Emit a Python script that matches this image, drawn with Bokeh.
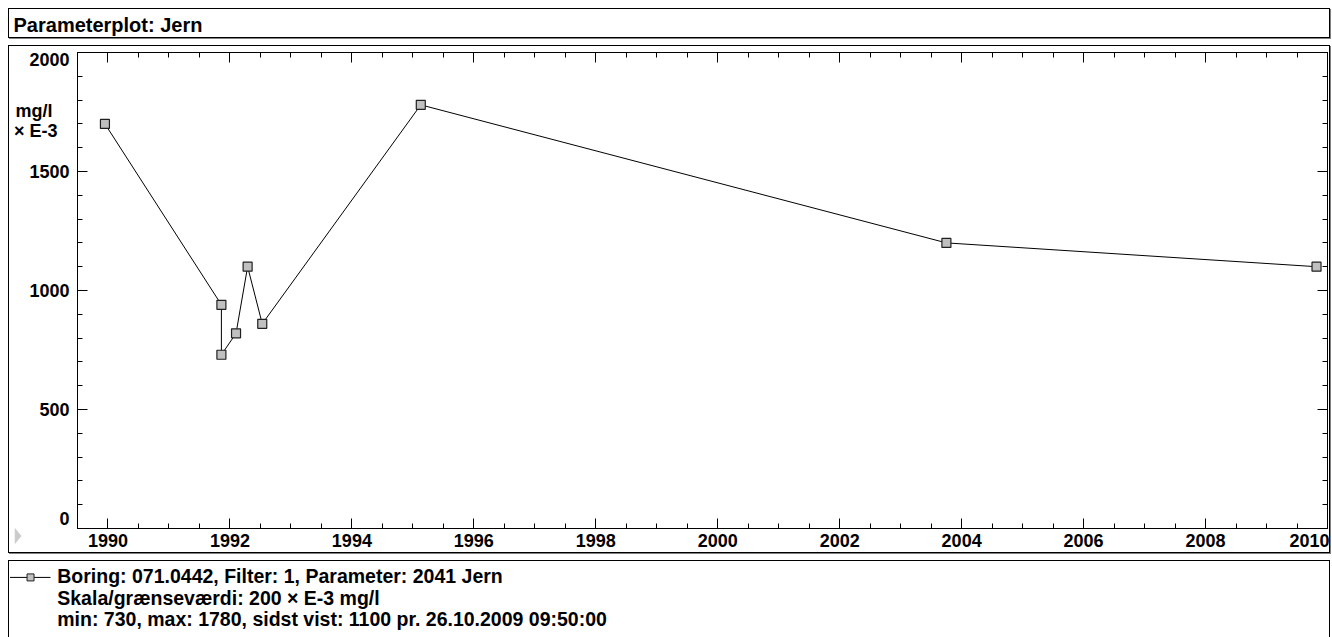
from bokeh.plotting import figure
from bokeh.models import LinearAxis, FixedTicker, Range1d, ColumnDataSource
from bokeh.core.properties import value
from bokeh.embed import file_html
from bokeh.resources import INLINE

# ---------------- data ----------------
years = [1989.95, 1991.86, 1991.86, 1992.10, 1992.29, 1992.53, 1995.13, 2003.75, 2009.82]
values = [1700, 940, 730, 820, 1100, 860, 1780, 1200, 1100]
x_major = [1990, 1992, 1994, 1996, 1998, 2000, 2002, 2004, 2006, 2008, 2010]
x_minor = [1989.5 + 0.5 * i for i in range(42)]
y_major = [0, 500, 1000, 1500, 2000]
y_minor = list(range(0, 2001, 100))
title_text = "Parameterplot: Jern"
unit_text = "mg/l \n× E-3"
legend_lines = ["Boring: 071.0442, Filter: 1, Parameter: 2041 Jern",
                "Skala/grænseværdi:  200 × E-3 mg/l",
                "min: 730,  max: 1780,  sidst vist: 1100  pr. 26.10.2009 09:50:00"]

FONT = "Liberation Sans"
W = 1322

# ---------------- title box ----------------
TH = 30
tf = figure(width=W, height=TH, x_range=Range1d(0, W - 2), y_range=Range1d(0, TH - 2),
            output_backend="svg", toolbar_location=None, min_border=0,
            x_axis_location=None, y_axis_location=None, margin=(8, 0, 0, 8))
tf.grid.visible = False
tf.outline_line_color = None
tf.styles = {"border": "1px solid black", "box-shadow": "1px 1px 0 0 #808080"}
tf.text(x=[4], y=[14], text=[title_text], text_font=value(FONT), text_font_style="bold",
        text_font_size="20px", text_color="black", text_baseline="alphabetic")

# ---------------- main plot ----------------
MH = 508
p = figure(width=W, height=MH, x_range=Range1d(1989.5, 2010.0), y_range=Range1d(0, 2000),
           output_backend="svg", toolbar_location=None, x_axis_location=None,
           y_axis_location=None, min_border_left=68, min_border_right=4,
           min_border_top=6, min_border_bottom=26, margin=(7, 0, 0, 8))
p.grid.visible = False
p.outline_line_color = "black"
p.outline_line_width = 1
p.background_fill_color = "white"
p.border_fill_color = "white"
p.styles = {"border": "1px solid black", "box-shadow": "1px 1px 0 0 #808080"}


def tick_axis(ticks, minor):
    """axis drawing the line and inward ticks only (labels empty)"""
    ax = LinearAxis(ticker=FixedTicker(ticks=ticks, minor_ticks=minor))
    ax.axis_line_color = "black"
    ax.major_tick_line_color = "black"
    ax.minor_tick_line_color = "black"
    ax.major_tick_in = 10
    ax.major_tick_out = 0
    ax.minor_tick_in = 5
    ax.minor_tick_out = 0
    ax.major_label_overrides = {t: "" for t in ticks}
    ax.major_label_text_font_size = "1px"
    ax.major_label_standoff = 0
    return ax


def label_axis(positions, texts, standoff, size="18px"):
    """axis drawing only the labels, at the places used by the original program"""
    ax = LinearAxis(ticker=FixedTicker(ticks=positions, minor_ticks=[]))
    ax.axis_line_color = None
    ax.major_tick_line_color = None
    ax.minor_tick_line_color = None
    ax.major_tick_in = 0
    ax.major_tick_out = 0
    ax.minor_tick_in = 0
    ax.minor_tick_out = 0
    ax.major_label_overrides = {pos: t for pos, t in zip(positions, texts)}
    ax.major_label_text_font = FONT
    ax.major_label_text_font_style = "bold"
    ax.major_label_text_font_size = size
    ax.major_label_text_color = "black"
    ax.major_label_standoff = standoff
    return ax


# frame axes with inward ticks
p.add_layout(tick_axis(x_major, x_minor), "below")
p.add_layout(tick_axis(y_major, y_minor), "left")
p.add_layout(tick_axis(x_major, x_minor), "above")
p.add_layout(tick_axis(y_major, y_minor), "right")

# x labels: the last one is kept inside the panel (shifted left), as in the original
x_label_pos = x_major[:-1] + [2009.74]
p.add_layout(label_axis(x_label_pos, [str(v) for v in x_major], 5), "below")

# y labels: 0 and 2000 nudged inside the frame, as in the original
y_label_pos = [40, 500, 1000, 1500, 1970]
p.add_layout(label_axis(y_label_pos, [str(v) for v in y_major], 8), "left")

# unit text at upper left (two lines)
unit_axis = label_axis([1712], [unit_text], -31)
unit_axis.major_label_text_line_height = 1.0
p.add_layout(unit_axis, "left")

src = ColumnDataSource(dict(x=years, y=values))
p.line("x", "y", source=src, line_color="black", line_width=1)
p.scatter("x", "y", source=src, marker="square", size=9, fill_color="#c0c0c0",
          line_color="#202020", line_width=1.2)

# ---------------- legend box ----------------
LH = 77
lf = figure(width=W, height=LH, x_range=Range1d(0, W - 2), y_range=Range1d(0, LH - 1),
            output_backend="svg", toolbar_location=None, min_border=0,
            x_axis_location=None, y_axis_location=None, margin=(7, 0, 0, 8))
lf.grid.visible = False
lf.outline_line_color = None
lf.styles = {"border-left": "1px solid black", "border-top": "1px solid black",
             "border-right": "1px solid black", "white-space": "pre"}
lf.line([0.5, 41], [60.3, 60.3], line_color="black", line_width=1)
lf.scatter([21], [60.3], marker="square", size=7, fill_color="#c0c0c0",
           line_color="#202020", line_width=1)
lf.text(x=[47.7] * 3, y=[61.5, 40.2, 18.9], text=legend_lines, text_font=value(FONT),
        text_font_style="bold", text_font_size="19.5px", text_baseline="alphabetic",
        text_color="black")

# ---------------- small grey marker at the lower left of the plot panel ----------------
mk = figure(width=8, height=18, x_range=Range1d(0, 8), y_range=Range1d(0, 18),
            output_backend="svg", toolbar_location=None, min_border=0,
            x_axis_location=None, y_axis_location=None)
mk.grid.visible = False
mk.outline_line_color = None
mk.styles = {"position": "absolute", "left": "14px", "top": "527px"}
mk.patch([0, 0, 7], [18, 1, 9.5], fill_color="#cccccc", line_color=None)

open("out.html", "w").write(file_html([tf, p, lf, mk], INLINE))
